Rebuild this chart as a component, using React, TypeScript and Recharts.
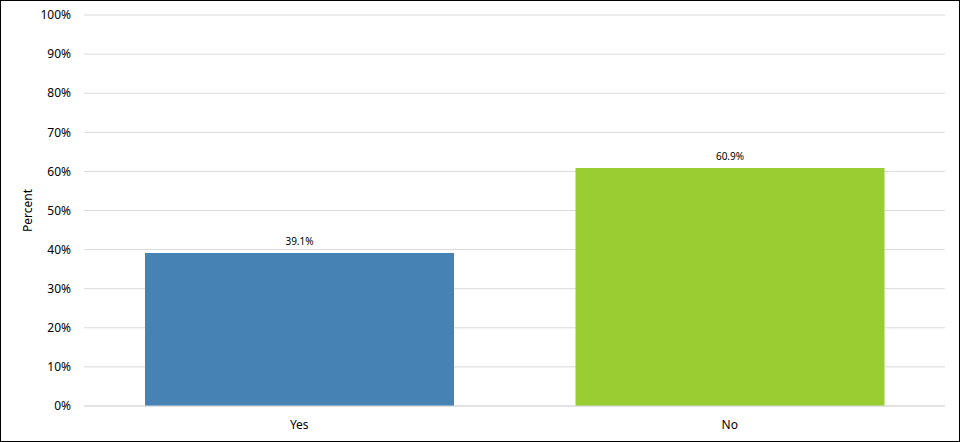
import { BarChart, Bar, XAxis, YAxis, CartesianGrid, Cell, LabelList } from 'recharts'

const categories = ['Yes', 'No']
const percents = [39.1, 60.9]
const barColors = ['#4682B4', '#9ACD32']
const yTicks = [0, 10, 20, 30, 40, 50, 60, 70, 80, 90, 100]

const data = categories.map((name, i) => ({ name, value: percents[i] }))

const font = '"Noto Sans", "Open Sans", sans-serif'

export default function App() {
  return (
    <div
      style={{
        position: 'absolute',
        top: 0,
        left: 0,
        width: 960,
        height: 442,
        border: '1px solid #000',
        boxSizing: 'border-box',
        background: '#fff',
        fontFamily: font,
      }}
    >
      <BarChart
        width={958}
        height={440}
        data={data}
        margin={{ top: 14, right: 14, left: 0, bottom: 0 }}
        barCategoryGap={61}
      >
        <CartesianGrid stroke="#d9d9d9" vertical={false} />
        <XAxis
          dataKey="name"
          height={35}
          tickLine={false}
          axisLine={{ stroke: '#d9d9d9' }}
          tick={{ fontSize: 12, fill: '#000', fontFamily: font }}
          tickMargin={8}
        />
        <YAxis
          domain={[0, 100]}
          ticks={yTicks}
          interval={0}
          width={83}
          tickLine={false}
          axisLine={false}
          tickMargin={7}
          tick={{ fontSize: 12, fill: '#000', fontFamily: font }}
          tickFormatter={(v) => `${v}%`}
          label={{
            value: 'Percent',
            angle: -90,
            position: 'insideLeft',
            offset: 27,
            style: { fontSize: 12, fill: '#000', fontFamily: font, textAnchor: 'middle' },
          }}
        />
        <Bar dataKey="value" isAnimationActive={false}>
          {data.map((d, i) => (
            <Cell key={d.name} fill={barColors[i]} />
          ))}
          <LabelList
            dataKey="value"
            position="top"
            offset={8}
            formatter={(v: any) => `${Number(v).toFixed(1)}%`}
            style={{ fontSize: 10, fill: '#000', fontFamily: font }}
          />
        </Bar>
      </BarChart>
    </div>
  )
}
